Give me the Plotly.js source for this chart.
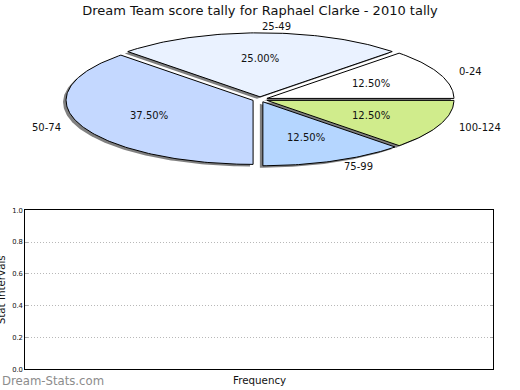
<!DOCTYPE html>
<html>
<head>
<meta charset="utf-8">
<script src="https://cdn.plot.ly/plotly-3.0.1.min.js"></script>
<style>html,body{margin:0;padding:0;background:#fff}#chart{width:520px;height:390px}</style>
</head>
<body>
<div id="chart"></div>
<script>
// ---- data ----
const categories = ['0-24', '25-49', '50-74', '75-99', '100-124'];
const counts = [1, 2, 3, 1, 1];
const sliceColors = ['#ffffff', '#eaf2ff', '#c4d8ff', '#b5d6ff', '#d0ec8c'];
const yTickVals = [0.0, 0.2, 0.4, 0.6, 0.8, 1.0];
const yTickText = ['0.0', '0.2', '0.4', '0.6', '0.8', '1.0'];
const titleText = 'Dream Team score tally for Raphael Clarke - 2010 tally';

// ---- geometry / style ----
const W = 520, H = 390;
const CX = 260, CY = 99.4, RX = 187, RY = 64;   // pixel centre & radii of the flattened pie
const EXPLODE = 0.04;
const SHX = -3 / RX, SHY = -2 / RY;               // shadow offset in axis units
const FONT = 'DejaVu Sans';

const total = counts.reduce((a, b) => a + b, 0);
const traces = [];
const shadows = [];
const annotations = [];
let start = 0;
counts.forEach((v, i) => {
  const t1 = start, t2 = start + 360 * v / total;
  start = t2;
  const mid = (t1 + t2) / 2 * Math.PI / 180;
  const ox = EXPLODE * Math.cos(mid), oy = EXPLODE * Math.sin(mid);
  const xs = [ox], ys = [oy];
  const n = Math.max(2, Math.ceil((t2 - t1) / 1));
  for (let k = 0; k <= n; k++) {
    const a = (t1 + (t2 - t1) * k / n) * Math.PI / 180;
    xs.push(ox + Math.cos(a));
    ys.push(oy + Math.sin(a));
  }
  xs.push(ox); ys.push(oy);
  shadows.push({
    type: 'scatter', mode: 'lines', x: xs.map(x => x + SHX), y: ys.map(y => y + SHY),
    fill: 'toself', fillcolor: 'rgba(50,50,50,0.62)', line: {width: 0, color: 'rgba(0,0,0,0)'},
    hoverinfo: 'skip', xaxis: 'x', yaxis: 'y'
  });
  traces.push({
    type: 'scatter', mode: 'lines', x: xs, y: ys,
    fill: 'toself', fillcolor: sliceColors[i], line: {width: 1, color: '#000'},
    hoverinfo: 'skip', xaxis: 'x', yaxis: 'y'
  });
  const c = Math.cos(mid), s = Math.sin(mid);
  annotations.push({
    xref: 'x', yref: 'y', x: ox + 1.1 * c, y: oy + 1.1 * s, text: categories[i],
    showarrow: false, xanchor: c > 0 ? 'left' : 'right', yanchor: 'middle',
    font: {family: FONT, size: 10, color: '#111'}
  });
  annotations.push({
    xref: 'x', yref: 'y', x: ox + 0.6 * c, y: oy + 0.6 * s,
    text: (100 * v / total).toFixed(2) + '%',
    showarrow: false, xanchor: 'center', yanchor: 'middle',
    font: {family: FONT, size: 10, color: '#111'}
  });
});

// bottom empty axes placeholder trace
const empty = {type: 'scatter', mode: 'markers', x: [], y: [], xaxis: 'x2', yaxis: 'y2', hoverinfo: 'skip'};

const plotTop = 210.3, plotBot = 369.3, plotL = 25.3, plotR = 493.3;

annotations.push({
  xref: 'paper', yref: 'paper', x: 259 / W, y: (H - 380) / H, text: 'Frequency',
  showarrow: false, xanchor: 'center', yanchor: 'middle',
  font: {family: FONT, size: 10.3, color: '#111'}
});
annotations.push({
  xref: 'paper', yref: 'paper', x: 0.5 / W, y: (H - (plotTop + plotBot) / 2) / H, text: 'Stat Intervals',
  showarrow: false, xanchor: 'center', yanchor: 'middle', textangle: -90,
  font: {family: FONT, size: 10.3, color: '#111'}
});
annotations.push({
  xref: 'paper', yref: 'paper', x: 0, y: (H - 380) / H, text: 'Dream-Stats.com',
  showarrow: false, xanchor: 'left', yanchor: 'middle',
  font: {family: 'DejaVu Sans Condensed', size: 13, color: '#8c8c8c'}
});

const layout = {
  width: W, height: H,
  margin: {l: 0, r: 0, t: 0, b: 0, pad: 0},
  paper_bgcolor: '#fff', plot_bgcolor: 'rgba(0,0,0,0)',
  showlegend: false, hovermode: false,
  title: {text: titleText, x: 0.5, xanchor: 'center', y: (H - 10) / H, yanchor: 'middle',
          font: {family: FONT, size: 13, color: '#111'}},
  xaxis: {domain: [0, 1], range: [-CX / RX, (W - CX) / RX], visible: false, fixedrange: true},
  yaxis: {domain: [0, 1], range: [-(H - CY) / RY, CY / RY], visible: false, fixedrange: true},
  xaxis2: {domain: [plotL / W, plotR / W], anchor: 'y2', range: [0, 1],
           showticklabels: false, ticks: '', showgrid: false, zeroline: false,
           showline: true, mirror: true, linecolor: '#000', linewidth: 1, fixedrange: true},
  yaxis2: {domain: [(H - plotBot) / H, (H - plotTop) / H], anchor: 'x2', range: [0, 1],
           tickmode: 'array', tickvals: yTickVals, ticktext: yTickText,
           ticks: 'inside', ticklen: 3, tickcolor: '#aaa', tickwidth: 1,
           tickfont: {family: FONT, size: 6.8, color: '#111'},
           showgrid: true, gridcolor: '#b8b8b8', griddash: '1px,2px', gridwidth: 1,
           zeroline: false, showline: true, mirror: 'ticks', linecolor: '#000', linewidth: 1,
           fixedrange: true},
  annotations: annotations
};

Plotly.newPlot('chart', shadows.concat(traces, [empty]), layout, {staticPlot: true, displayModeBar: false});
</script>
</body>
</html>
